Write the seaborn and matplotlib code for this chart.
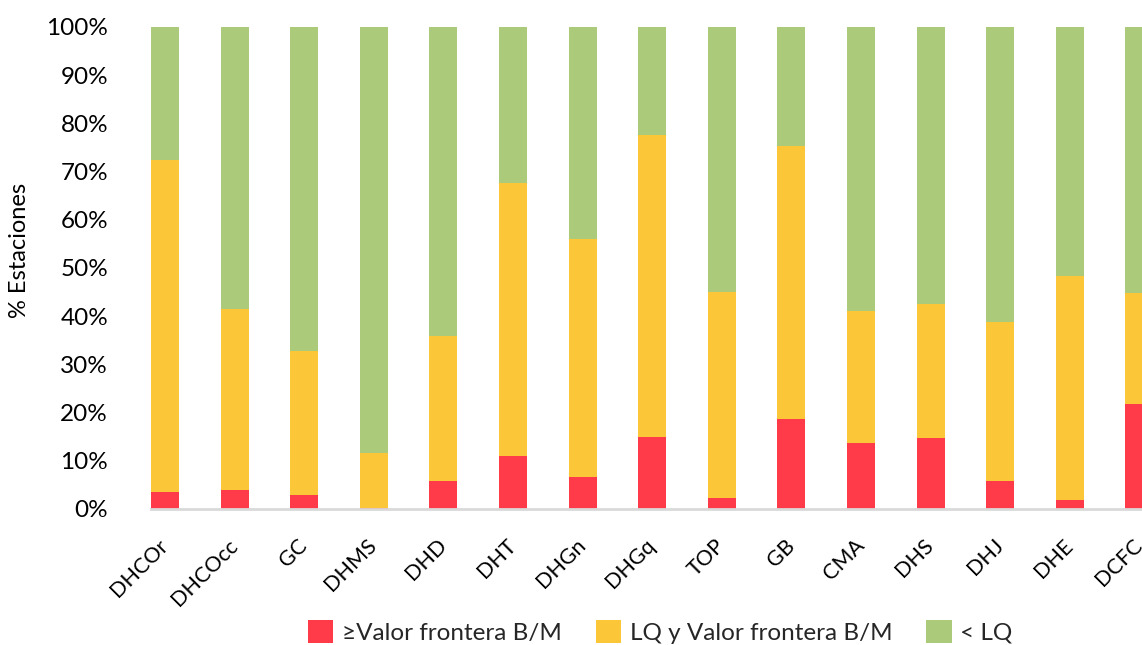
import pandas as pd
import matplotlib
matplotlib.use("Agg")
import matplotlib.pyplot as plt
import seaborn as sns
from matplotlib.patches import Patch

# --- data (percent of stations) ---
categories = ['DHCOr', 'DHCOcc', 'GC', 'DHMS', 'DHD', 'DHT', 'DHGn', 'DHGq',
              'TOP', 'GB', 'CMA', 'DHS', 'DHJ', 'DHE', 'DCFC']
above_limit = [3.6, 4.0, 2.8, 0.3, 5.8, 10.9, 6.7, 14.9, 2.3, 18.7, 13.6, 14.7, 5.9, 1.9, 21.8]
between_lq_limit = [68.7, 37.5, 29.9, 11.3, 30.0, 56.7, 49.3, 62.6, 42.7, 56.7, 27.5, 27.8, 32.9, 46.5, 23.0]
below_lq = [27.7, 58.5, 67.3, 88.4, 64.2, 32.4, 44.0, 22.5, 55.0, 24.6, 58.9, 57.5, 61.2, 51.6, 55.2]

series_labels = ['\u2265Valor frontera B/M', 'LQ y Valor frontera B/M', '< LQ']
colors = ['#FF3A49', '#FBC638', '#ABCB7B']

df = pd.DataFrame({'Cat': categories, 'red': above_limit,
                   'yellow': between_lq_limit, 'green': below_lq})
# cumulative tops for the stacked overlay
df['top_red'] = df['red']
df['top_yellow'] = df['red'] + df['yellow']
df['top_green'] = df['top_yellow'] + df['green']

sns.set_theme(style="white")
plt.rcParams['font.family'] = ['Lato', 'DejaVu Sans']

fig = plt.figure(figsize=(11.42, 6.45), dpi=100)
# axes deliberately runs past the right edge, like the cropped original
ax = fig.add_axes([0.1323, 0.2109, 0.8959, 0.7473])

for col, c in zip(['top_green', 'top_yellow', 'top_red'], colors[::-1]):
    sns.barplot(data=df, x='Cat', y=col, color=c, saturation=1, width=0.4,
                linewidth=0, ax=ax, order=categories)

ax.set_xlim(-0.2, 14.5)
ax.set_ylim(0, 100)
ax.set_yticks(range(0, 101, 10))
ax.set_yticklabels([f'{v}%' for v in range(0, 101, 10)])
ax.set_xlabel('')
ax.set_ylabel('% Estaciones', fontsize=17, color='#000000')
ax.yaxis.set_label_coords(-0.118, 0.537)

for s in ['top', 'right', 'left']:
    ax.spines[s].set_visible(False)
ax.spines['bottom'].set_color('#D9D9D9')
ax.spines['bottom'].set_linewidth(2)

ax.tick_params(axis='y', length=0, pad=31, labelsize=17.5, labelcolor='#000000')
ax.tick_params(axis='x', length=0, pad=24, labelsize=15.5, labelcolor='#000000')
for lab in ax.get_xticklabels():
    lab.set_rotation(45)
    lab.set_ha('right')
    lab.set_va('center')
    lab.set_rotation_mode('anchor')

handles = [Patch(facecolor=c, edgecolor='none') for c in colors]
fig.legend(handles, series_labels, loc='center', bbox_to_anchor=(0.578, 0.02),
           ncol=3, frameon=False, fontsize=17.5, handlelength=1.05, handleheight=1.05,
           handletextpad=0.35, columnspacing=1.4)

fig.savefig('out.png', dpi=100)
